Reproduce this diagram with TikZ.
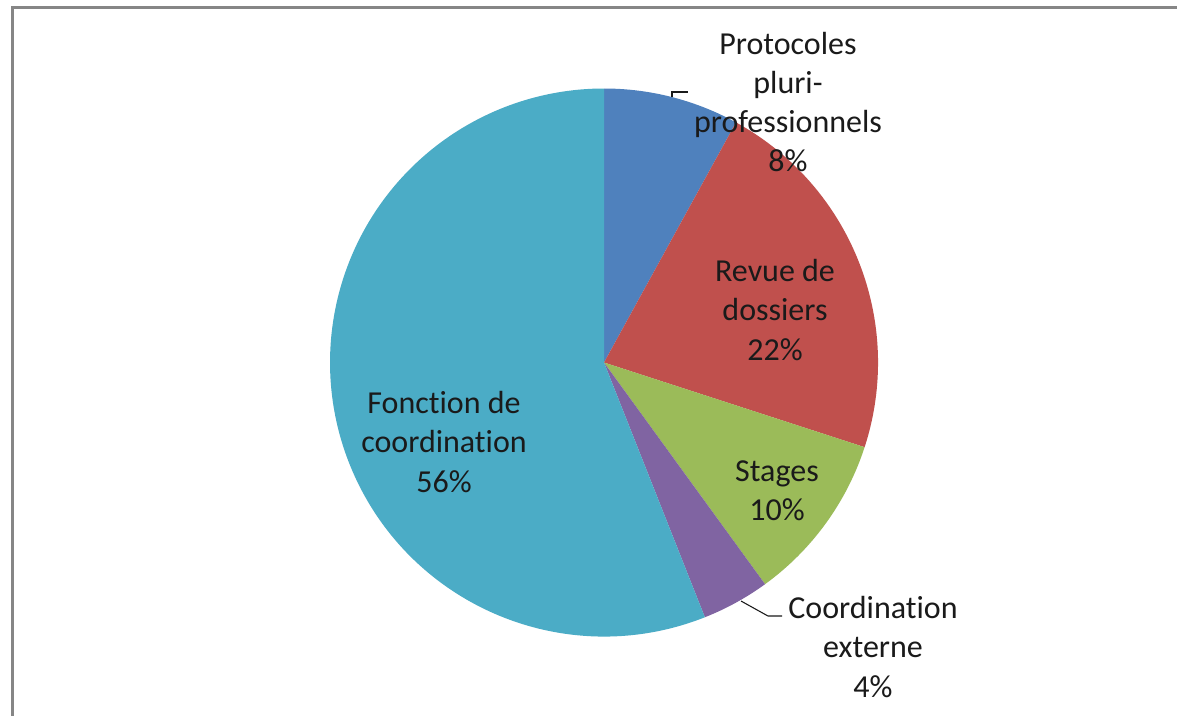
\documentclass[tikz,border=0pt]{standalone}
\usepackage{fontspec}
\setmainfont[RawFeature=-liga]{Carlito}
\definecolor{cBlue}{HTML}{4F81BD}
\definecolor{cRed}{HTML}{C0504D}
\definecolor{cGreen}{HTML}{9BBB59}
\definecolor{cPurple}{HTML}{8064A2}
\definecolor{cTeal}{HTML}{4BACC6}
\definecolor{cFrame}{HTML}{868686}
\definecolor{cText}{HTML}{1A1A1A}
\begin{document}
\begin{tikzpicture}[x=0.75pt,y=-0.75pt,
  lbl/.style={align=center, font=\fontsize{24}{29.3}\selectfont, inner sep=0pt, text=cText},
  leader/.style={draw=cText, line width=0.8pt}]
\useasboundingbox (0,0) rectangle (1177,715);
\fill[white] (0,0) rectangle (1177,715);
\draw[cFrame, line width=2.25pt] (12.5,716) -- (12.5,7.5) -- (1178,7.5);
\begin{scope}[shift={(604,362.5)}, yscale=-1]
  \fill[cBlue] (0,0) -- (90:274) arc[start angle=90, end angle=61.2, radius=274] -- cycle;
  \fill[cRed] (0,0) -- (61.2:274) arc[start angle=61.2, end angle=-18, radius=274] -- cycle;
  \fill[cGreen] (0,0) -- (-18:274) arc[start angle=-18, end angle=-54, radius=274] -- cycle;
  \fill[cPurple] (0,0) -- (-54:274) arc[start angle=-54, end angle=-68.4, radius=274] -- cycle;
  \fill[cTeal] (0,0) -- (-68.4:274) arc[start angle=-68.4, end angle=-270, radius=274] -- cycle;
\end{scope}
\node[lbl] (prot) at (788,102) {Protocoles\\pluri-\\professionnels\\8\%};
\node[lbl] (revue) at (775,310) {Revue de\\dossiers\\22\%};
\node[lbl] (stages) at (777,491) {Stages\\10\%};
\node[lbl] (coordext) at (873,647) {Coordination\\externe\\4\%};
\node[lbl] (fonction) at (444,442) {Fonction de\\coordination\\56\%};
\coordinate (p1) at (672,97);
\coordinate (p1b) at (672,92);
\coordinate (p1c) at (688,92);
\coordinate (p2) at (741,601);
\coordinate (p2b) at (768,616);
\coordinate (p2c) at (782,616);
\draw[leader] (p1) -- (p1b) -- (p1c);
\draw[leader] (p2) -- (p2b) -- (p2c);
\end{tikzpicture}
\end{document}
